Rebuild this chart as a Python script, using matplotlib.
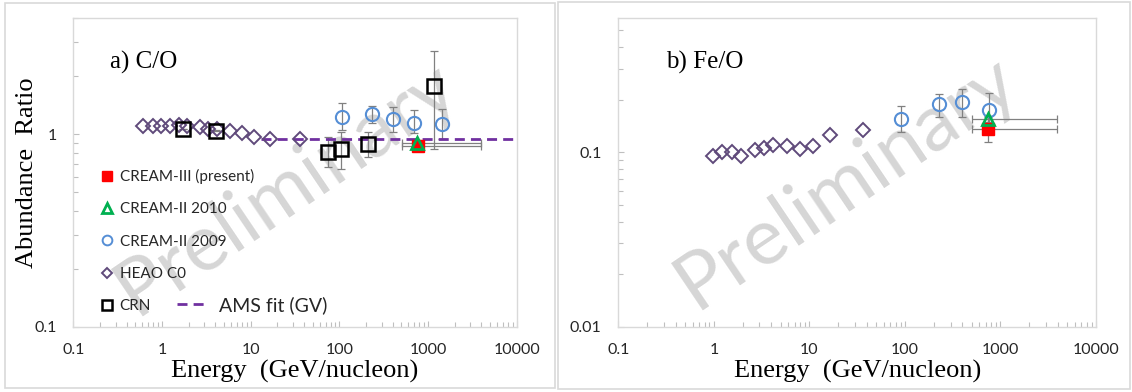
import numpy as np
import matplotlib.pyplot as plt
from matplotlib.patches import Rectangle
from matplotlib.lines import Line2D
from matplotlib.ticker import LogLocator, NullFormatter


# ---- a) C/O ----
heao_co_e = [0.61, 0.79, 0.98, 1.23, 1.55, 1.93, 2.68, 3.33, 4.14, 5.84, 7.9, 10.9, 16.5, 36]
heao_co = [1.10, 1.10, 1.10, 1.10, 1.12, 1.10, 1.09, 1.07, 1.07, 1.04, 1.01, 0.97, 0.94, 0.94]

c09_co_e = [106, 231, 398, 699, 1446]
c09_co = [1.235, 1.27, 1.20, 1.14, 1.13]
c09_co_lo = [1.05, 1.14, 1.03, 1.01, 0.945]
c09_co_hi = [1.45, 1.40, 1.38, 1.33, 1.35]

crn_co_e = [1.71, 4.06, 75, 103, 209, 1175]
crn_co = [1.065, 1.044, 0.806, 0.839, 0.891, 1.77]
crn_co_lo = [1.06, 1.04, 0.674, 0.658, 0.765, 0.836]
crn_co_hi = [1.07, 1.05, 0.965, 1.03, 1.03, 2.69]

c10_co_e = [750]
c10_co = [0.898]
c10_co_y = [0.87, 0.93]
c10_co_x = [503, 4000]

c3_co_e = [763]
c3_co = [0.869]
c3_co_y = [0.84, 0.90]
c3_co_x = [503, 4000]

ams_e = [13, 9000]
ams_co = [0.945, 0.945]

# ---- b) Fe/O ----
heao_fe_e = [0.98, 1.23, 1.55, 1.93, 2.68, 3.33, 4.14, 5.84, 7.9, 10.9, 16.5, 36]
heao_fe = [0.095, 0.100, 0.100, 0.095, 0.103, 0.105, 0.110, 0.109, 0.104, 0.109, 0.125, 0.134]

c09_fe_e = [91, 230, 394, 761]
c09_fe = [0.155, 0.188, 0.194, 0.175]
c09_fe_lo = [0.130, 0.160, 0.160, 0.145]
c09_fe_hi = [0.183, 0.216, 0.231, 0.218]

c10_fe_e = [740]
c10_fe = [0.155]
c10_fe_y = [0.148, 0.162]
c10_fe_x = [500, 3900]

c3_fe_e = [749]
c3_fe = [0.1355]
c3_fe_y = [0.115, 0.160]
c3_fe_x = [500, 3900]

xticks = [0.1, 1, 10, 100, 1000, 10000]
xticklabels = ['0.1', '1', '10', '100', '1000', '10000']

RED = '#ff0000'
GREEN = '#00b050'
BLUE = '#558ed5'
PURPLE = '#604a7b'
AMS = '#7030a0'
ERR = '#808080'
FRAME = '#d9d9d9'
SANS = ['Lato', 'DejaVu Sans']
SERIF = ['Liberation Serif', 'DejaVu Serif']


def errs(y, lo, hi):
    y = np.asarray(y)
    return [y - np.asarray(lo), np.asarray(hi) - y]


def setup_axes(ax, ylim, yticks, yticklabels):
    ax.set_xscale('log')
    ax.set_yscale('log')
    ax.set_xlim(0.1, 10000)
    ax.set_ylim(*ylim)
    ax.set_xticks(xticks)
    ax.set_xticklabels(xticklabels)
    ax.set_yticks(yticks)
    ax.set_yticklabels(yticklabels)
    ax.xaxis.set_minor_locator(LogLocator(base=10, subs=range(2, 10), numticks=20))
    ax.yaxis.set_minor_locator(LogLocator(base=10, subs=range(2, 10), numticks=20))
    ax.xaxis.set_minor_formatter(NullFormatter())
    ax.yaxis.set_minor_formatter(NullFormatter())
    ax.tick_params(which='both', direction='in', color='#bfbfbf', width=0.8,
                   labelsize=11.5, labelcolor='#262626', pad=12)
    ax.tick_params(which='major', length=4)
    ax.tick_params(which='minor', length=3.5)
    for lbl in ax.get_xticklabels() + ax.get_yticklabels():
        lbl.set_family(SANS)
    for sp in ax.spines.values():
        sp.set_color(FRAME)
        sp.set_linewidth(1.0)
    ax.set_xlabel('Energy  (GeV/nucleon)', family=SERIF, fontsize=19)
    ax.xaxis.set_label_coords(0.5, -0.108)


def watermark(ax, x, y):
    ax.text(x, y, 'Preliminary', transform=ax.transAxes, rotation=34,
            rotation_mode='anchor', ha='center', va='center', fontsize=57,
            family=SANS, color='#d6d6d6', zorder=0)


def draw_points(ax, he, hv, ce, cv, clo, chi, ge, gv, gy, gx, re, rv, ry, rx):
    ax.errorbar(ce, cv, yerr=errs(cv, clo, chi), fmt='none', ecolor=ERR,
                elinewidth=0.9, capsize=3.2, capthick=0.9, zorder=2)
    ax.errorbar(re, rv, yerr=errs(rv, [ry[0]], [ry[1]]),
                xerr=errs(re, [rx[0]], [rx[1]]), fmt='none', ecolor=ERR,
                elinewidth=0.9, capsize=3.2, capthick=0.9, zorder=2)
    ax.errorbar(ge, gv, yerr=errs(gv, [gy[0]], [gy[1]]),
                xerr=errs(ge, [gx[0]], [gx[1]]), fmt='none', ecolor=ERR,
                elinewidth=0.9, capsize=3.2, capthick=0.9, zorder=2)
    ax.plot(he, hv, 'D', ms=7, mfc='none', mec=PURPLE, mew=1.4, zorder=3)
    ax.plot(ce, cv, 'o', ms=9.5, mfc='none', mec=BLUE, mew=1.5, zorder=3)
    ax.plot(re, rv, 's', ms=8.5, mfc=RED, mec=RED, zorder=4)
    ax.plot(ge, gv, '^', ms=8.5, mfc='none', mec=GREEN, mew=2.0, zorder=5)


fig = plt.figure(figsize=(11.32, 3.92), dpi=100)

# panel borders
fig.add_artist(Rectangle((5 / 1132, 1 - 388 / 392), 550 / 1132, 385 / 392,
                         transform=fig.transFigure, fill=False, ec=FRAME, lw=1.2))
fig.add_artist(Rectangle((558 / 1132, 1 - 389 / 392), 572 / 1132, 387 / 392,
                         transform=fig.transFigure, fill=False, ec=FRAME, lw=1.2))

# ---- left panel ----
ax1 = fig.add_axes([0.0648, 0.1666, 0.3917, 0.7867])
setup_axes(ax1, (0.1, 4.0), [0.1, 1], ['0.1', '1'])
ax1.set_ylabel('Abundance  Ratio', family=SERIF, fontsize=19)
ax1.yaxis.set_label_coords(-0.08, 0.5)
watermark(ax1, 0.48, 0.45)

ax1.plot(ams_e, ams_co, color=AMS, lw=2.0, linestyle=(0, (3.6, 2.2)), zorder=2.5)
ax1.errorbar(crn_co_e, crn_co, yerr=errs(crn_co, crn_co_lo, crn_co_hi), fmt='none',
             ecolor=ERR, elinewidth=0.9, capsize=3.2, capthick=0.9, zorder=2)
draw_points(ax1, heao_co_e, heao_co, c09_co_e, c09_co, c09_co_lo, c09_co_hi,
            c10_co_e, c10_co, c10_co_y, c10_co_x, c3_co_e, c3_co, c3_co_y, c3_co_x)
ax1.plot(crn_co_e, crn_co, 's', ms=10, mfc='none', mec='black', mew=1.8, zorder=4)
ax1.text(0.083, 0.836, 'a) C/O', transform=ax1.transAxes, family=SERIF,
         fontsize=18, ha='left', va='baseline')

handles = [
    Line2D([], [], ls='none', marker='s', ms=7, mfc=RED, mec=RED),
    Line2D([], [], ls='none', marker='^', ms=7.5, mfc='none', mec=GREEN, mew=2.0),
    Line2D([], [], ls='none', marker='o', ms=7, mfc='none', mec=BLUE, mew=1.4),
    Line2D([], [], ls='none', marker='D', ms=5, mfc='none', mec=PURPLE, mew=1.4),
    Line2D([], [], ls='none', marker='s', ms=7.5, mfc='none', mec='black', mew=1.8),
]
labels = ['CREAM-III (present)', 'CREAM-II 2010', 'CREAM-II 2009', 'HEAO C0', 'CRN']
leg1 = ax1.legend(handles, labels, loc='lower left', bbox_to_anchor=(0.063, 0.043),
                  frameon=False, borderpad=0, borderaxespad=0, handlelength=0.8,
                  handletextpad=0.4, labelspacing=1.2, numpoints=1,
                  prop={'family': SANS, 'size': 11})
for t in leg1.get_texts():
    t.set_color('#262626')
ax1.add_artist(leg1)
ams_handle = Line2D([], [], color=AMS, lw=2.0, linestyle=(0, (3.6, 2.2)))
leg2 = ax1.legend([ams_handle], ['AMS fit (GV)'], loc='center left',
                  bbox_to_anchor=(0.234, 0.0703), frameon=False, borderpad=0,
                  borderaxespad=0, handlelength=1.41, handletextpad=0.76,
                  prop={'family': SANS, 'size': 14})
leg2.get_texts()[0].set_color('#262626')

# ---- right panel ----
ax2 = fig.add_axes([0.5462, 0.1666, 0.422, 0.7867])
setup_axes(ax2, (0.01, 0.585), [0.01, 0.1], ['0.01', '0.1'])
watermark(ax2, 0.478, 0.47)
draw_points(ax2, heao_fe_e, heao_fe, c09_fe_e, c09_fe, c09_fe_lo, c09_fe_hi,
            c10_fe_e, c10_fe, c10_fe_y, c10_fe_x, c3_fe_e, c3_fe, c3_fe_y, c3_fe_x)
ax2.text(0.0999, 0.836, 'b) Fe/O', transform=ax2.transAxes, family=SERIF,
         fontsize=18, ha='left', va='baseline')

fig.savefig('out.png', dpi=100)
